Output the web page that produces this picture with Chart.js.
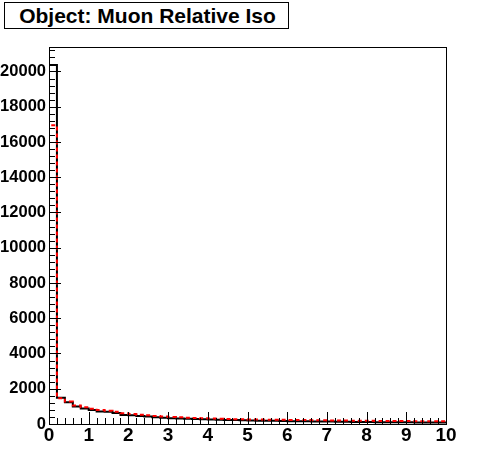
<!DOCTYPE html>
<html>
<head>
<meta charset="utf-8">
<script src="https://cdn.jsdelivr.net/npm/chart.js@4/dist/chart.umd.min.js"></script>
<style>
  body { margin: 0; background: #fff; }
  #wrap { position: relative; width: 496px; height: 472px; }
  #title {
    position: absolute; left: 4px; top: 2px; width: 281px; height: 25px;
    border: 1px solid #000; background: #fff;
    font: bold 21px "Liberation Sans", Arial, sans-serif; color: #000;
    text-align: center; line-height: 26px; padding-left: 2px;
  }
</style>
</head>
<body>
<div id="wrap">
  <canvas id="myChart" width="496" height="472"></canvas>
  <div id="title">Object: Muon Relative Iso</div>
</div>
<script>
// histogram binning (x axis)
var binWidth = 0.2
var xMin = 0
var xMax = 10
// tick labels
var xTicks = [0, 1, 2, 3, 4, 5, 6, 7, 8, 9, 10]
var yTicks = [0, 2000, 4000, 6000, 8000, 10000, 12000, 14000, 16000, 18000, 20000]
// y axis top
var yMax = 21390
// black histogram: counts per bin
var blackCounts = [20370, 1490, 1230, 990, 880, 800, 710, 690, 630, 510,
                   490, 450, 420, 390, 360, 330, 310, 300, 290, 270,
                   250, 240, 230, 220, 210, 200, 190, 185, 180, 170,
                   160, 155, 150, 145, 140, 135, 130, 125, 120, 115,
                   110, 105, 100, 100, 95, 95, 90, 90, 85, 85]
// red histogram: counts per bin
var redCounts = [16950, 1460, 1270, 1050, 950, 870, 800, 750, 690, 610,
                 570, 530, 490, 460, 430, 400, 380, 360, 340, 320,
                 305, 295, 285, 275, 265, 255, 250, 245, 240, 235,
                 230, 225, 220, 215, 210, 205, 200, 195, 190, 185,
                 180, 175, 175, 170, 165, 165, 160, 155, 155, 150]

// turn counts into step points: start at baseline, then one point per upper bin edge
function stepPoints(counts){
    var pts = [{x: xMin, y: 0}]
    for (let i = 0; i < counts.length; i++){
        pts.push({x: xMin + (i + 1) * binWidth, y: counts[i]})
    }
    return pts
}

// ROOT-like frame with ticks drawn inside
const frameTicks = {
    id: 'frameTicks',
    afterDatasetsDraw(chart){
        const c = chart.ctx
        const a = chart.chartArea
        const xs = chart.scales.x
        const ys = chart.scales.y
        c.save()
        c.strokeStyle = '#000'
        c.lineWidth = 1
        c.beginPath()
        // x ticks: major every 1, minor every 0.2
        for (let i = 0; i <= 50; i++){
            const v = i * 0.2
            const px = Math.round(xs.getPixelForValue(v)) + 0.5
            const len = (i % 5 === 0) ? 12 : 6
            c.moveTo(px, a.bottom)
            c.lineTo(px, a.bottom - len)
        }
        // y ticks: major every 2000, minor every 400
        for (let i = 0; i * 400 <= yMax; i++){
            const v = i * 400
            const py = Math.round(ys.getPixelForValue(v)) + 0.5
            const len = (i % 5 === 0) ? 12 : 6
            c.moveTo(a.left, py)
            c.lineTo(a.left + len, py)
        }
        c.stroke()
        c.strokeRect(Math.round(a.left) + 0.5, Math.round(a.top) + 0.5,
                     Math.round(a.right - a.left), Math.round(a.bottom - a.top))
        c.restore()
    }
}

const ctx = document.getElementById('myChart')
new Chart(ctx, {
    type: 'line',
    data: {
        datasets: [{
            label: 'red',
            data: stepPoints(redCounts),
            stepped: 'after',
            borderColor: '#ff0000',
            borderWidth: 2,
            borderDash: [4, 3],
            pointRadius: 0,
            fill: false,
            order: 0
        }, {
            label: 'black',
            data: stepPoints(blackCounts),
            stepped: 'after',
            borderColor: '#000000',
            borderWidth: 2,
            pointRadius: 0,
            fill: false,
            order: 1
        }]
    },
    options: {
        responsive: false,
        animation: false,
        events: [],
        layout: { padding: { top: 47, right: 50, left: 0, bottom: 0 } },
        plugins: {
            legend: { display: false },
            tooltip: { enabled: false }
        },
        scales: {
            x: {
                type: 'linear',
                min: xMin,
                max: xMax,
                grid: { display: false, drawTicks: false },
                border: { display: false },
                ticks: {
                    color: '#000', padding: 0, maxRotation: 0, autoSkip: false,
                    font: {family: 'Liberation Sans', size: 19, weight: 'bold'}
                },
                afterBuildTicks: function(scale){
                    scale.ticks = xTicks.map(v => ({value: v}))
                },
                afterFit: function(scale){ scale.height = 48 }
            },
            y: {
                min: 0,
                max: yMax,
                grid: { display: false, drawTicks: false },
                border: { display: false },
                ticks: {
                    color: '#000', padding: 3, autoSkip: false,
                    font: {family: 'Liberation Sans', size: 16.5, weight: 'bold'},
                    callback: function(value){ return String(value) }
                },
                afterBuildTicks: function(scale){
                    scale.ticks = yTicks.map(v => ({value: v}))
                },
                afterFit: function(scale){ scale.width = 49 }
            }
        }
    },
    plugins: [frameTicks]
})
</script>
</body>
</html>
